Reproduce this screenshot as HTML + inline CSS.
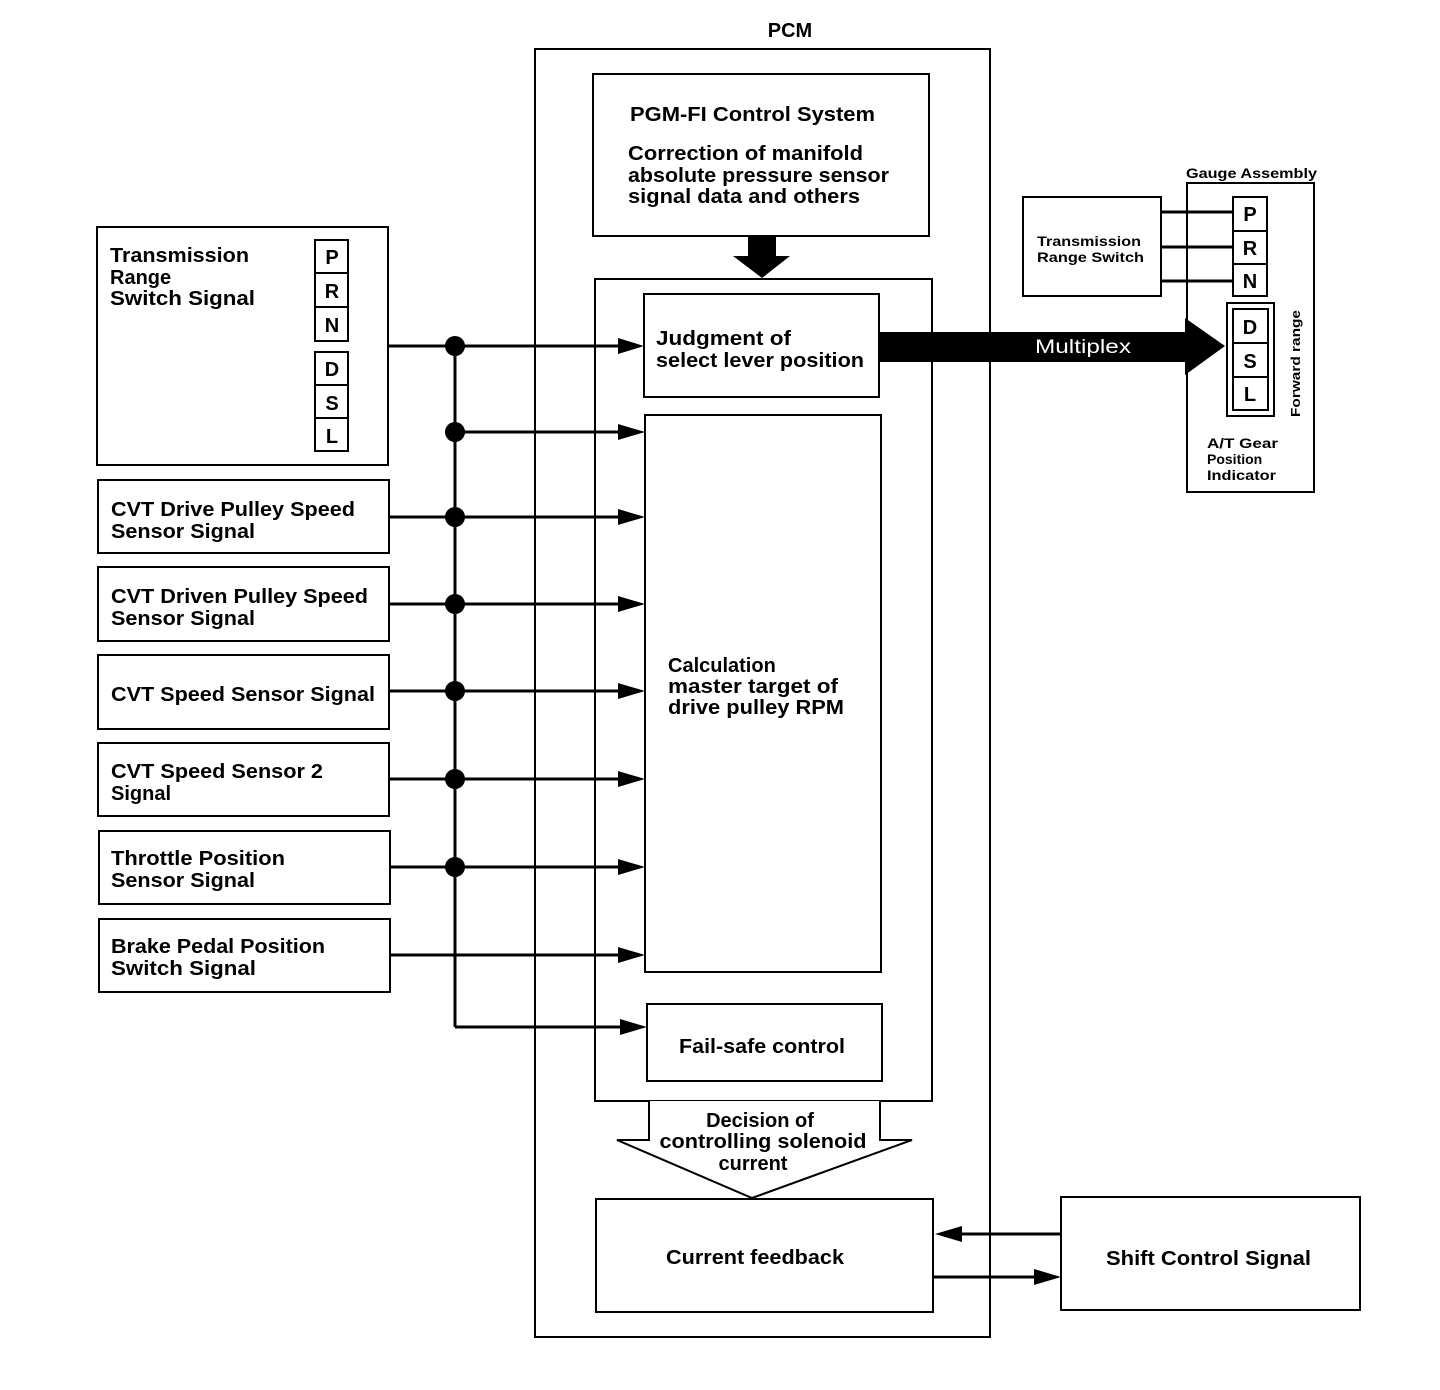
<!DOCTYPE html>
<html><head><meta charset="utf-8"><style>
html,body{margin:0;padding:0;background:#fff;}
svg{display:block;}
text{font-family:"Liberation Sans",Arial,sans-serif;font-weight:bold;fill:#000;}
</style></head><body>
<svg width="1440" height="1390" viewBox="0 0 1440 1390" xmlns="http://www.w3.org/2000/svg">
<defs>
<marker id="ah" markerWidth="10" markerHeight="10" refX="10" refY="5" orient="auto" markerUnits="userSpaceOnUse" viewBox="0 0 10 10">
</marker>
</defs>
<g fill="none" stroke="#000" stroke-width="2">
<!-- left boxes -->
<rect x="97" y="227" width="291" height="238"/>
<rect x="315" y="240" width="33" height="101"/>
<line x1="315" y1="273" x2="348" y2="273"/><line x1="315" y1="307" x2="348" y2="307"/>
<rect x="315" y="352" width="33" height="99"/>
<line x1="315" y1="385" x2="348" y2="385"/><line x1="315" y1="418" x2="348" y2="418"/>
<rect x="98" y="480" width="291" height="73"/>
<rect x="98" y="567" width="291" height="74"/>
<rect x="98" y="655" width="291" height="74"/>
<rect x="98" y="743" width="291" height="73"/>
<rect x="99" y="831" width="291" height="73"/>
<rect x="99" y="919" width="291" height="73"/>
<!-- PCM -->
<rect x="535" y="49" width="455" height="1288"/>
<rect x="593" y="74" width="336" height="162"/>
<rect x="595" y="279" width="337" height="822"/>
<rect x="644" y="294" width="235" height="103"/>
<rect x="645" y="415" width="236" height="557"/>
<rect x="647" y="1004" width="235" height="77"/>
<rect x="596" y="1199" width="337" height="113"/>
<rect x="1061" y="1197" width="299" height="113"/>
<!-- gauge -->
<rect x="1023" y="197" width="138" height="99"/>
<rect x="1187" y="183" width="127" height="309"/>
<rect x="1233" y="197" width="34" height="99"/>
<line x1="1233" y1="231" x2="1267" y2="231"/><line x1="1233" y1="264" x2="1267" y2="264"/>
<rect x="1227" y="303" width="47" height="113"/>
<rect x="1233" y="309" width="35" height="101"/>
<line x1="1233" y1="343" x2="1268" y2="343"/><line x1="1233" y1="377" x2="1268" y2="377"/>
<!-- hollow arrow -->
<path d="M649 1101 V1140 H617 L752 1198 L912 1140 H880 V1101" fill="#fff"/>
</g>
<g stroke="#000" stroke-width="3" fill="none">
<line x1="1161" y1="212" x2="1233" y2="212"/>
<line x1="1161" y1="247" x2="1233" y2="247"/>
<line x1="1161" y1="281" x2="1233" y2="281"/>
<line x1="455" y1="346" x2="455" y2="1027"/>
<line x1="388" y1="346" x2="625" y2="346"/>
<line x1="455" y1="432" x2="625" y2="432"/>
<line x1="389" y1="517" x2="625" y2="517"/>
<line x1="389" y1="604" x2="625" y2="604"/>
<line x1="389" y1="691" x2="625" y2="691"/>
<line x1="389" y1="779" x2="625" y2="779"/>
<line x1="390" y1="867" x2="625" y2="867"/>
<line x1="390" y1="955" x2="625" y2="955"/>
<line x1="455" y1="1027" x2="625" y2="1027"/>
<line x1="955" y1="1234" x2="1061" y2="1234"/>
<line x1="933" y1="1277" x2="1040" y2="1277"/>
</g>
<g fill="#000">
<circle cx="455" cy="346" r="10"/><circle cx="455" cy="432" r="10"/>
<circle cx="455" cy="517" r="10"/><circle cx="455" cy="604" r="10"/>
<circle cx="455" cy="691" r="10"/><circle cx="455" cy="779" r="10"/>
<circle cx="455" cy="867" r="10"/>
<path d="M618 338 L644 346 L618 354Z"/><path d="M618 424 L645 432 L618 440Z"/>
<path d="M618 509 L645 517 L618 525Z"/><path d="M618 596 L645 604 L618 612Z"/>
<path d="M618 683 L645 691 L618 699Z"/><path d="M618 771 L645 779 L618 787Z"/>
<path d="M618 859 L645 867 L618 875Z"/><path d="M618 947 L645 955 L618 963Z"/>
<path d="M620 1019 L647 1027 L620 1035Z"/>
<path d="M962 1226 L935 1234 L962 1242Z"/>
<path d="M1034 1269 L1061 1277 L1034 1285Z"/>
<path d="M748 236 H776 V256 H790 L762 278 L733 256 H748Z"/>
<path d="M879 332 H1185 V318 L1225 346 L1185 375 V362 H879Z"/>
</g>
<!-- text -->
<text x="790" y="37" font-size="20" text-anchor="middle">PCM</text>
<text x="630" y="121" font-size="20" textLength="245" lengthAdjust="spacingAndGlyphs">PGM-FI Control System</text>
<text x="628" y="160" font-size="20" textLength="235" lengthAdjust="spacingAndGlyphs">Correction of manifold</text>
<text x="628" y="182" font-size="20" textLength="261" lengthAdjust="spacingAndGlyphs">absolute pressure sensor</text>
<text x="628" y="203" font-size="20" textLength="232" lengthAdjust="spacingAndGlyphs">signal data and others</text>
<text x="656" y="345" font-size="20" textLength="135" lengthAdjust="spacingAndGlyphs">Judgment of</text>
<text x="656" y="367" font-size="20" textLength="208" lengthAdjust="spacingAndGlyphs">select lever position</text>
<text x="668" y="672" font-size="20">Calculation</text>
<text x="668" y="693" font-size="20" textLength="170" lengthAdjust="spacingAndGlyphs">master target of</text>
<text x="668" y="714" font-size="20" textLength="176" lengthAdjust="spacingAndGlyphs">drive pulley RPM</text>
<text x="679" y="1053" font-size="20" textLength="166" lengthAdjust="spacingAndGlyphs">Fail-safe control</text>
<text x="760" y="1127" font-size="20" text-anchor="middle">Decision of</text>
<text x="763" y="1148" font-size="20" text-anchor="middle" textLength="207" lengthAdjust="spacingAndGlyphs">controlling solenoid</text>
<text x="753" y="1170" font-size="20" text-anchor="middle">current</text>
<text x="666" y="1264" font-size="20" textLength="178" lengthAdjust="spacingAndGlyphs">Current feedback</text>
<text x="1106" y="1265" font-size="20" textLength="205" lengthAdjust="spacingAndGlyphs">Shift Control Signal</text>
<text x="1035" y="353" font-size="19" font-weight="normal" style="font-weight:normal" fill="#fff" textLength="96" lengthAdjust="spacingAndGlyphs"><tspan fill="#fff">Multiplex</tspan></text>
<text x="110" y="262" font-size="20" textLength="139" lengthAdjust="spacingAndGlyphs">Transmission</text>
<text x="110" y="284" font-size="20">Range</text>
<text x="110" y="305" font-size="20" textLength="145" lengthAdjust="spacingAndGlyphs">Switch Signal</text>
<g font-size="20" text-anchor="middle">
<text x="332" y="264">P</text><text x="332" y="298">R</text><text x="332" y="332">N</text>
<text x="332" y="376">D</text><text x="332" y="410">S</text><text x="332" y="443">L</text>
<text x="1250" y="221">P</text><text x="1250" y="255">R</text><text x="1250" y="288">N</text>
<text x="1250" y="334">D</text><text x="1250" y="368">S</text><text x="1250" y="401">L</text>
</g>
<text x="111" y="516" font-size="20" textLength="244" lengthAdjust="spacingAndGlyphs">CVT Drive Pulley Speed</text>
<text x="111" y="538" font-size="20" textLength="144" lengthAdjust="spacingAndGlyphs">Sensor Signal</text>
<text x="111" y="603" font-size="20" textLength="257" lengthAdjust="spacingAndGlyphs">CVT Driven Pulley Speed</text>
<text x="111" y="625" font-size="20" textLength="144" lengthAdjust="spacingAndGlyphs">Sensor Signal</text>
<text x="111" y="701" font-size="20" textLength="264" lengthAdjust="spacingAndGlyphs">CVT Speed Sensor Signal</text>
<text x="111" y="778" font-size="20" textLength="212" lengthAdjust="spacingAndGlyphs">CVT Speed Sensor 2</text>
<text x="111" y="800" font-size="20">Signal</text>
<text x="111" y="865" font-size="20" textLength="174" lengthAdjust="spacingAndGlyphs">Throttle Position</text>
<text x="111" y="887" font-size="20" textLength="144" lengthAdjust="spacingAndGlyphs">Sensor Signal</text>
<text x="111" y="953" font-size="20" textLength="214" lengthAdjust="spacingAndGlyphs">Brake Pedal Position</text>
<text x="111" y="975" font-size="20" textLength="145" lengthAdjust="spacingAndGlyphs">Switch Signal</text>
<text x="1186" y="178" font-size="14" textLength="131" lengthAdjust="spacingAndGlyphs">Gauge Assembly</text>
<text x="1037" y="246" font-size="14" textLength="104" lengthAdjust="spacingAndGlyphs">Transmission</text>
<text x="1037" y="262" font-size="14" textLength="107" lengthAdjust="spacingAndGlyphs">Range Switch</text>
<text x="1207" y="448" font-size="14" textLength="71" lengthAdjust="spacingAndGlyphs">A/T Gear</text>
<text x="1207" y="464" font-size="14">Position</text>
<text x="1207" y="480" font-size="14" textLength="69" lengthAdjust="spacingAndGlyphs">Indicator</text>
<text x="0" y="0" font-size="13" transform="translate(1300,417) rotate(-90)" textLength="107" lengthAdjust="spacingAndGlyphs">Forward range</text>
</svg>
</body></html>
